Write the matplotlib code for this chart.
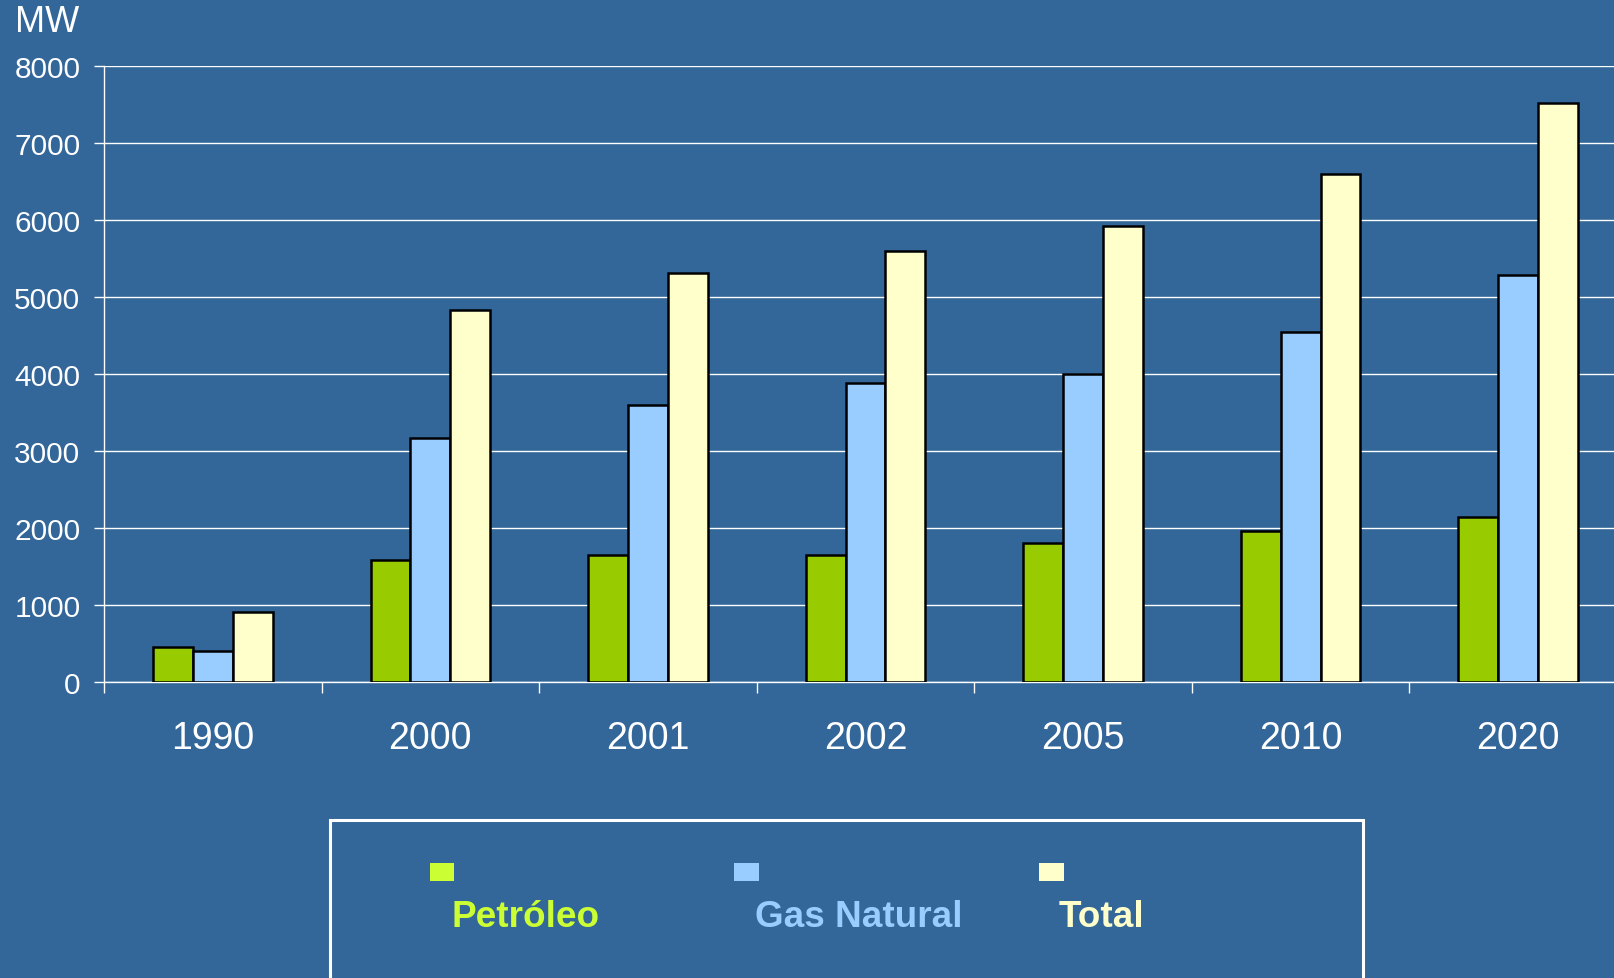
import numpy as np
import matplotlib.pyplot as plt
from matplotlib.patches import Rectangle

plt.rcParams['font.family'] = ['Liberation Sans', 'DejaVu Sans']

# data (MW)
years = ['1990', '2000', '2001', '2002', '2005', '2010', '2020']
petroleo = [455, 1590, 1645, 1645, 1805, 1955, 2140]
gas_natural = [400, 3170, 3600, 3880, 4000, 4550, 5285]
total = [910, 4830, 5310, 5590, 5925, 6595, 7515]

series_names = ['Petróleo', 'Gas Natural', 'Total']
bar_colors = ['#99cc00', '#99ccff', '#ffffcc']
legend_colors = ['#ccff33', '#99ccff', '#ffffcc']

bg = '#336699'

fig = plt.figure(figsize=(16.15, 9.79), dpi=100, facecolor=bg)
ax = fig.add_axes([0.0644, 0.3023, 0.943, 0.6294])
ax.set_facecolor(bg)

x = np.arange(len(years))
w = 0.183
for i, (vals, col) in enumerate(zip([petroleo, gas_natural, total], bar_colors)):
    ax.bar(x + (i - 1) * w, vals, width=w, color=col, edgecolor='black',
           linewidth=1.8, zorder=3)

ax.set_xlim(-0.5, len(years) - 0.5)
ax.set_ylim(0, 8000)
ax.set_yticks(range(0, 8001, 1000))
ax.yaxis.grid(True, color='white', linewidth=1.0, zorder=0)
ax.set_axisbelow(True)

ax.set_xticks(x)
ax.set_xticklabels(years, fontsize=27, color='white')
ax.set_xticks(np.arange(-0.5, len(years) + 0.5, 1), minor=True)
ax.tick_params(axis='x', which='major', length=0, pad=27.5)
ax.tick_params(axis='x', which='minor', length=8, width=1, color='white',
               direction='out')
ax.tick_params(axis='y', length=7, width=1, color='white', pad=10,
               labelsize=21.5, labelcolor='white')

for s in ['top', 'right']:
    ax.spines[s].set_visible(False)
for s in ['left', 'bottom']:
    ax.spines[s].set_color('white')
    ax.spines[s].set_linewidth(1.0)

fig.text(0.009, 0.977, 'MW', fontsize=26, color='white', va='center', ha='left')

# legend box, swatches above the labels
fig.add_artist(Rectangle((0.2043, -0.05), 0.6397, 0.2114, transform=fig.transFigure,
                         facecolor='none', edgecolor='white', linewidth=2.2))
sw_x = [0.266, 0.4547, 0.6435]
lab_x = [0.2793, 0.4675, 0.6557]
for sx, lx, name, col in zip(sw_x, lab_x, series_names, legend_colors):
    fig.add_artist(Rectangle((sx, 0.0991), 0.0153, 0.0184, transform=fig.transFigure,
                             facecolor=col, edgecolor='none'))
    fig.text(lx, 0.0625, name, fontsize=26.6, fontweight='bold', color=col,
             va='center', ha='left')

fig.savefig('out.png', dpi=100, facecolor=bg)
